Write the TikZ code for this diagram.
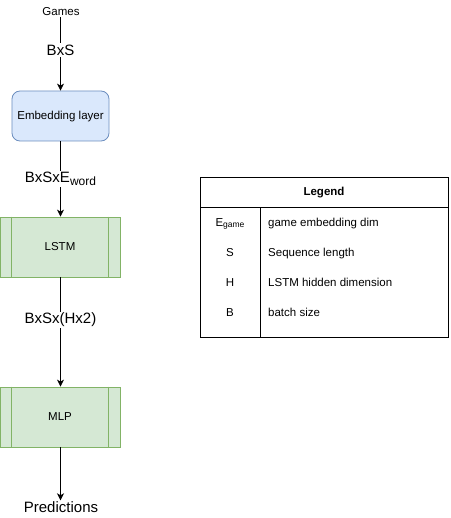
\documentclass[tikz,border=0pt]{standalone}
\usepackage{fontspec}
\setmainfont{Liberation Sans}
\usetikzlibrary{arrows.meta}
\definecolor{embfill}{HTML}{DAE8FC}
\definecolor{embline}{HTML}{6C8EBF}
\definecolor{procfill}{HTML}{D5E8D4}
\definecolor{procline}{HTML}{82B366}
\begin{document}
\begin{tikzpicture}[x=1bp,y=-1bp,
  small/.style={font=\fontsize{11.5bp}{13bp}\selectfont},
  big/.style={font=\fontsize{15bp}{17bp}\selectfont},
  embbox/.style={draw=embline, fill=embfill, line width=0.8bp, rounded corners=8bp,
    minimum width=97bp, minimum height=50bp, inner sep=0pt, small,
    text height=0.72em, text depth=0em},
  procbox/.style={draw=procline, fill=procfill, line width=0.8bp,
    minimum width=120bp, minimum height=60bp, inner sep=0pt, small,
    text height=0.72em, text depth=0em},
  procsep/.style={draw=procline, line width=0.8bp},
  conn/.style={draw=black, line width=0.8bp, -{Stealth[length=7bp,width=7bp,inset=2bp]}},
  lab/.style={fill=white, inner sep=1.5bp, big},
  legline/.style={draw=black, line width=0.8bp},
  legtxt/.style={small, anchor=west, inner sep=0pt, text height=0.72em, text depth=0em},
  legsym/.style={small, inner sep=0pt, text height=0.72em, text depth=0em}]
\useasboundingbox (0,0) rectangle (451,518);

% main chain
\node[small, inner sep=1bp] (games) at (61,12) {Games};
\node[embbox] (emb) at (60.5,116) {Embedding layer};
\node[procbox] (lstm) at (60,247) {LSTM};
\draw[procsep] ([xshift=12bp]lstm.north west) -- ([xshift=12bp]lstm.south west);
\draw[procsep] ([xshift=-12bp]lstm.north east) -- ([xshift=-12bp]lstm.south east);
\node[procbox] (mlp) at (60,417) {MLP};
\draw[procsep] ([xshift=12bp]mlp.north west) -- ([xshift=12bp]mlp.south west);
\draw[procsep] ([xshift=-12bp]mlp.north east) -- ([xshift=-12bp]mlp.south east);
\node[big, inner sep=1bp] (pred) at (61,507) {Predictions};

\draw[conn] (emb.north |- games.south) -- node[lab, pos=0.45] {BxS} (emb.north);
\draw[conn] (emb.south) -- node[lab, pos=0.5] {BxSxE\raisebox{-0.35ex}{\fontsize{12bp}{13bp}\selectfont word}} (emb.south |- lstm.north);
\draw[conn] (emb.south |- lstm.south) -- node[lab, pos=0.39] {BxSx(Hx2)} (emb.south |- mlp.north);
\draw[conn] (emb.south |- mlp.south) -- (emb.south |- pred.north);

% legend
\node[draw=black, line width=0.8bp, minimum width=248bp, minimum height=160bp, inner sep=0pt] (legend) at (324,257) {};
\coordinate (hdrL) at (200,207);
\coordinate (hdrR) at (448,207);
\draw[legline] (hdrL) -- (hdrR);
\coordinate (vtop) at (260,207);
\draw[legline] (vtop) -- (vtop |- legend.south);
\node[legsym, font=\fontsize{11.5bp}{13bp}\selectfont\bfseries] (legtitle) at (324,192) {Legend};
\node[legsym] (s1) at (230,223) {E\raisebox{-0.15ex}{\fontsize{8.5bp}{9bp}\selectfont game}};
\node[legsym] (s2) at (230,253) {S};
\node[legsym] (s3) at (230,283) {H};
\node[legsym] (s4) at (230,313) {B};
\node[legtxt] (d1) at (268,223) {game embedding dim};
\node[legtxt] (d2) at (268,253) {Sequence length};
\node[legtxt] (d3) at (268,283) {LSTM hidden dimension};
\node[legtxt] (d4) at (268,313) {batch size};
\end{tikzpicture}
\end{document}
